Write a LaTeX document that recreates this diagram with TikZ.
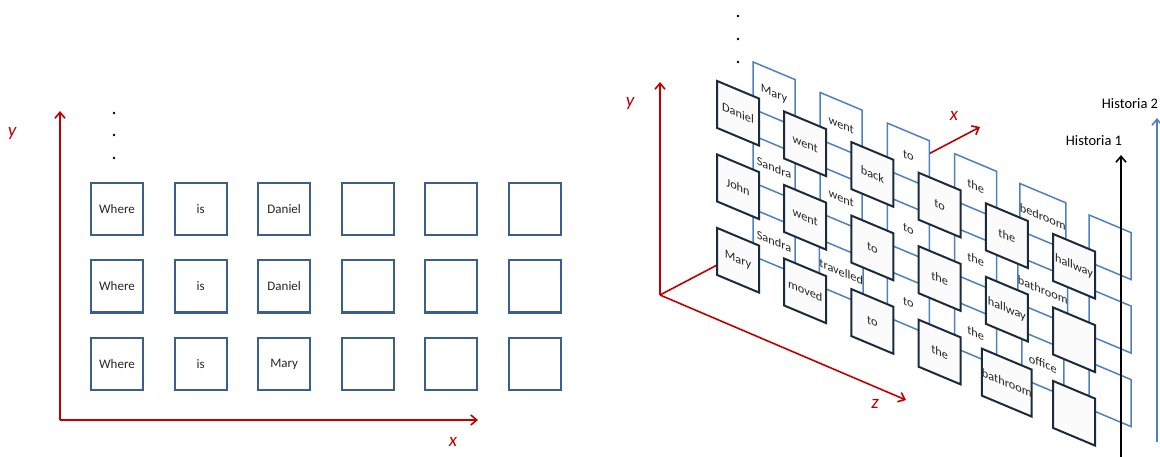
\documentclass[tikz,border=0pt]{standalone}
\usepackage{fontspec}
\setmainfont{Carlito}
\usepackage{tikz}
\usetikzlibrary{arrows.meta}
\definecolor{cAxis} {HTML}{C00000}
\definecolor{cCell} {HTML}{3A5F8E}
\definecolor{cBack} {HTML}{4F81BD}
\definecolor{cFront}{HTML}{1C2B3C}
\tikzset{
  axis/.style   ={draw=cAxis,line width=1.6pt,-{Straight Barb[length=6pt,width=10pt]}},
  axlbl/.style  ={text=cAxis,font=\fontsize{19}{22}\selectfont\itshape,inner sep=0pt},
  cell/.style   ={draw=cCell,line width=2pt,fill=white,minimum width=52pt,minimum height=52pt,
                  inner sep=0pt,font=\fontsize{13}{15}\selectfont,text=black!85},
  skew/.style   ={minimum width=42pt,minimum height=47pt,inner sep=0pt,transform shape,
                  font=\fontsize{12.3}{14}\selectfont,text=black!85},
  bcell/.style  ={skew,draw=cBack,line width=1.5pt,fill=white},
  fcell/.style  ={skew,draw=cFront,line width=2pt,fill=black!1.5},
  hist/.style   ={line width=1.6pt,-{Straight Barb[length=6pt,width=10pt]}},
  story/.style  ={font=\fontsize{14.5}{17}\selectfont,inner sep=0pt},
}

\begin{document}
\begin{tikzpicture}[x=1pt, y=-1pt]
\useasboundingbox (0,0) rectangle (1160,457);

% ---- flat view: query sentences on a 2-D grid ---------------------------
\coordinate (lo) at (60,420);
\coordinate (ly) at (60,111);
\coordinate (lx) at (478,420);
\draw[axis] (lo) -- (ly);
\draw[axis] (lo) -- (lx);
\node[axlbl] (lyl) at (12,133) {y};
\node[axlbl] (lxl) at (453,442) {x};
\foreach \y in {113,135,158} \fill (114,\y) circle (1.3pt);

\foreach \r/\wa/\wb/\wc in {0/Where/is/Daniel, 1/Where/is/Daniel, 2/Where/is/Mary}{
  \foreach \c/\w in {0/\wa, 1/\wb, 2/\wc, 3/{}, 4/{}, 5/{}}
    \node[cell] (l-\r-\c) at (117+83.6*\c, 209+77.5*\r) {\w};
}

% ---- oblique view: one plane per story ----------------------------------
\coordinate (ro) at (660,295);
\coordinate (ry) at (660,82);
\coordinate (rx) at (980,127);
\coordinate (rz) at (906,400);
% x runs behind the planes, so it goes first
\draw[axis] (ro) -- (rx);
\draw[axis] (ro) -- (ry);
\draw[axis] (ro) -- (rz);
\node[axlbl] (ryl) at (630,103) {y};
\node[axlbl] (rxl) at (954,116) {x};
\node[axlbl] (rzl) at (875,404) {z};
\foreach \y in {16,39,62} \fill (738,\y) circle (1.3pt);

% back plane (story 2)
\foreach \c/\wa/\wb/\wc in {0/Mary/Sandra/Sandra, 1/went/went/travelled, 2/to/to/to,
                            3/the/the/the, 4/bedroom/bathroom/office, 5/{}/{}/{}}{
  \foreach \r/\w in {0/\wa, 1/\wb, 2/\wc}{
    \begin{scope}[shift={(752+67.2*\c, 61+30.6*\c+73.5*\r)}, yslant=-0.42]
      \node[bcell] (b-\r-\c) at (22,24) {\w};
    \end{scope}
  }
}

% front plane (story 1)
\foreach \c/\wa/\wb/\wc in {0/Daniel/John/Mary, 1/went/went/moved, 2/back/to/to,
                            3/to/the/the, 4/the/hallway/bathroom, 5/hallway/{}/{}}{
  \foreach \r/\w in {0/\wa, 1/\wb, 2/\wc}{
    \begin{scope}[shift={(716+67.2*\c, 80+30.6*\c+73.5*\r)}, yslant=-0.42]
      \node[fcell] (f-\r-\c) at (22,24) {\w};
    \end{scope}
  }
}

% ---- story markers ------------------------------------------------------
\coordinate (h1a) at (1121,457);
\coordinate (h1b) at (1121,155);
\coordinate (h2a) at (1157,442);
\coordinate (h2b) at (1157,118);
\draw[hist,draw=black] (h1a) -- (h1b);
\draw[hist,draw=cBack] (h2a) -- (h2b);
\node[story] (h1) at (1094,141) {Historia 1};
\node[story] (h2) at (1130,104) {Historia 2};
\end{tikzpicture}
\end{document}
